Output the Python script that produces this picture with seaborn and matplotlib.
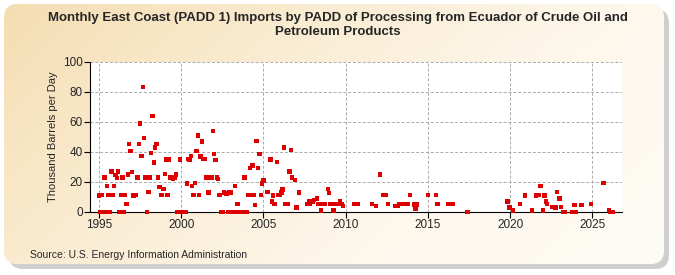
import numpy as np
import pandas as pd
import seaborn as sns
import matplotlib.pyplot as plt
from matplotlib.patches import FancyBboxPatch

# monthly imports, thousand barrels per day
months = [
    "1995-01", "1995-02", "1995-03", "1995-04", "1995-05", "1995-06", "1995-07", "1995-08", "1995-09", "1995-10", "1995-11", "1995-12",
    "1996-01", "1996-02", "1996-03", "1996-04", "1996-05", "1996-06", "1996-07", "1996-08", "1996-09", "1996-10", "1996-11", "1996-12",
    "1997-01", "1997-02", "1997-04", "1997-05", "1997-06", "1997-07", "1997-08", "1997-09", "1997-10", "1997-11", "1997-12",
    "1998-01", "1998-02", "1998-03", "1998-04", "1998-05", "1998-06", "1998-07", "1998-08", "1998-09", "1998-10", "1998-11", "1998-12",
    "1999-01", "1999-02", "1999-03", "1999-04", "1999-05", "1999-06", "1999-07", "1999-08", "1999-09", "1999-10", "1999-11", "1999-12",
    "2000-01", "2000-02", "2000-03", "2000-04", "2000-05", "2000-06", "2000-07", "2000-08", "2000-09", "2000-10", "2000-11", "2000-12",
    "2001-01", "2001-02", "2001-03", "2001-04", "2001-05", "2001-06", "2001-07", "2001-08", "2001-09", "2001-10", "2001-11", "2001-12",
    "2002-01", "2002-02", "2002-03", "2002-04", "2002-05", "2002-06", "2002-07", "2002-08", "2002-09", "2002-10", "2002-11", "2002-12",
    "2003-01", "2003-02", "2003-03", "2003-04", "2003-05", "2003-06", "2003-07", "2003-08", "2003-09", "2003-10", "2003-11", "2003-12",
    "2004-01", "2004-02", "2004-03", "2004-04", "2004-05", "2004-06", "2004-07", "2004-08", "2004-09", "2004-10", "2004-11", "2004-12",
    "2005-01", "2005-04", "2005-06", "2005-07", "2005-08", "2005-09", "2005-11", "2005-12",
    "2006-01", "2006-02", "2006-03", "2006-04", "2006-05", "2006-07", "2006-08", "2006-09", "2006-10", "2006-12",
    "2007-01", "2007-03", "2007-09", "2007-10", "2007-11", "2007-12",
    "2008-01", "2008-02", "2008-04", "2008-05", "2008-06", "2008-07", "2008-08", "2008-09", "2008-10", "2008-12",
    "2009-01", "2009-02", "2009-03", "2009-04", "2009-05", "2009-06", "2009-07", "2009-09", "2009-10", "2009-11",
    "2010-07", "2010-08", "2010-09", "2010-10",
    "2011-08", "2011-11",
    "2012-02", "2012-04", "2012-06", "2012-08",
    "2013-01", "2013-03", "2013-04", "2013-06", "2013-08", "2013-09", "2013-10", "2013-12",
    "2014-03", "2014-04", "2014-05",
    "2015-01", "2015-07", "2015-08",
    "2016-04", "2016-06", "2016-07",
    "2017-06",
    "2019-11", "2019-12",
    "2020-01", "2020-03", "2020-08", "2020-12",
    "2021-05", "2021-08", "2021-10", "2021-11",
    "2022-01", "2022-02", "2022-03", "2022-04", "2022-08", "2022-10", "2022-11",
    "2023-01", "2023-02", "2023-04", "2023-05", "2023-10", "2023-11", "2023-12",
    "2024-01", "2024-05", "2024-12",
    "2025-09",
    "2026-01", "2026-02", "2026-03", "2026-04",
]
values = [
    11, 0, 11.5, 0, 23, 0, 17.5, 11.5, 0, 27, 11.5, 17.5,
    24.7, 22.7, 27, 0, 11.5, 23, 0, 11.5, 5.5, 25, 45.5, 40.7,
    26.7, 11, 11.5, 23, 45.5, 59, 37.5, 83.5, 49.5, 23, 0,
    13.5, 23, 39.5, 64, 33, 43, 45.5, 23, 16.7, 11.5, 11.5, 15.3,
    25.3, 35, 11.5, 35, 23, 23, 22, 23, 25, 0, 0, 35,
    0, 0, 0, 0, 19, 35.5, 35, 37.5, 17.5, 11.5, 19.3, 40.7,
    51, 11.5, 37, 47, 35.5, 35.5, 23, 23, 13, 23, 23, 54,
    38.7, 34.7, 23, 22, 11.5, 0, 0, 13, 12.5, 12, 0, 13,
    13, 0, 0, 17.5, 0, 5.5, 0, 0, 0, 0, 23, 0,
    0, 11.5, 29.5, 11.5, 31, 11.5, 4.7, 47.3, 29.5, 38.7, 11.5, 19,
    21, 13.5, 35, 7, 11, 5.5, 33.5, 11.5,
    11.5, 13, 15, 43, 5.5, 5.5, 27, 41.3, 23, 21.5,
    3, 13, 5.5, 7, 5.5, 7,
    7, 8, 9, 5.5, 5.5, 1, 5.5, 5.5, 5.5, 15.3,
    12.5, 5.5, 5.5, 1, 5.5, 5.5, 5.5, 7, 5.5, 4,
    5.5, 5.5, 5.5, 5.5,
    5.5, 4,
    25, 11.5, 11.5, 5.5,
    4, 4, 5.5, 5.5, 5.5, 5.5, 5.5, 11.5,
    5, 2, 5,
    11.5, 11.5, 5.5,
    5.5, 5.5, 5.5,
    0,
    7, 3,
    3, 1, 5.5, 11,
    1, 11, 11.5, 17.5,
    1, 11, 7, 5.5, 3.5, 3, 13.5,
    9, 3.5, 0, 0, 0, 0, 4.5,
    0, 4.5, 5.5,
    19.5,
    1.5, 0, 0, 0,
]
year_ticks = [1995, 2000, 2005, 2010, 2015, 2020, 2025]
value_ticks = [0, 20, 40, 60, 80, 100]

d = pd.to_datetime(months)
df = pd.DataFrame({"year": d.year + (d.month - 1) / 12, "value": values})

sns.set_style("white")
plt.rcParams["font.family"] = ["Liberation Sans Narrow", "Liberation Sans", "DejaVu Sans"]

fig = plt.figure(figsize=(6.75, 2.75), dpi=100)
fig.patch.set_facecolor("white")

# rounded beige panel with a soft shadow
bg = fig.add_axes([0, 0, 1, 1], zorder=-5)
bg.set_xlim(0, 675)
bg.set_ylim(275, 0)
bg.axis("off")
shadow = FancyBboxPatch((9, 9), 660, 260, boxstyle="round,pad=0,rounding_size=14",
                        facecolor="#cfcfcf", edgecolor="none", zorder=1)
bg.add_patch(shadow)
panel = FancyBboxPatch((4, 4), 660, 260, boxstyle="round,pad=0,rounding_size=14",
                       facecolor="#fbf0dc", edgecolor="none", zorder=2)
bg.add_patch(panel)
gx, gy = np.meshgrid(np.linspace(0, 1, 200), np.linspace(0, 1, 80))
grad = gx * 0.7 + gy * 0.3
cmap = sns.blend_palette(["#f5ddb2", "#faecd2", "#fdf7ec", "#fefcf6"], as_cmap=True)
img = bg.imshow(grad, extent=[4, 664, 264, 4], cmap=cmap, aspect="auto",
                interpolation="bilinear", zorder=3)
img.set_clip_path(panel)

ax = fig.add_axes([90 / 675, 1 - 212 / 275, (622 - 90) / 675, 150 / 275])
ax.set_facecolor("white")
sns.scatterplot(data=df, x="year", y="value", marker="s", s=10, color="#dd0000",
                edgecolor="none", linewidth=0, ax=ax, zorder=3, clip_on=False)

ax.set_xlim(1994.45, 2026.8)
ax.set_ylim(0, 100)
ax.set_xticks(year_ticks)
ax.set_yticks(value_ticks)
ax.grid(True, color="#aaaaaa", linestyle=(0, (3, 2)), linewidth=0.7)
ax.set_axisbelow(True)
for side in ["top", "right"]:
    ax.spines[side].set_visible(False)
ax.spines["left"].set_color("black")
ax.spines["bottom"].set_color("black")
ax.tick_params(axis="both", labelsize=8.5, length=4, width=0.8, direction="out", color="black", pad=1,
               left=True, bottom=True)
ax.set_xlabel("")
ax.set_ylabel("Thousand Barrels per Day", fontsize=8)

fig.text(0.5, 0.955, "Monthly East Coast (PADD 1) Imports by PADD of Processing from Ecuador of Crude Oil and\nPetroleum Products",
         ha="center", va="top", fontsize=9.5, fontweight="bold", linespacing=1.2)
fig.text(30 / 675, 1 - 255 / 275, "Source: U.S. Energy Information Administration", fontsize=7.5, va="center")

fig.savefig("out.png", dpi=100)
